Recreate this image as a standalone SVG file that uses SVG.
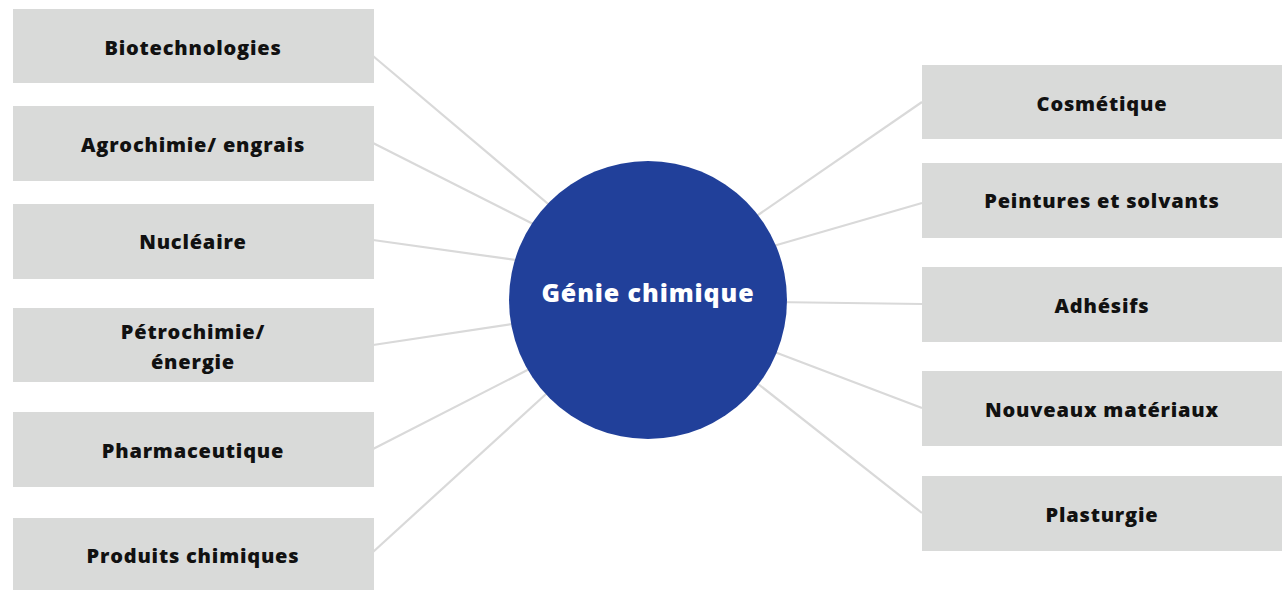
<svg xmlns="http://www.w3.org/2000/svg" width="1282" height="590" viewBox="0 0 1282 590">
  <style>
    .box { fill: #d9dad9; }
    .lbl { font-family: "Open Sans", "Noto Sans", "Liberation Sans", sans-serif; font-weight: 800; font-size: 20px; letter-spacing: 0.8px; fill: #111111; text-anchor: middle; }
    .hub { fill: #21409a; }
    .hubtxt { font-family: "Open Sans", "Noto Sans", "Liberation Sans", sans-serif; font-weight: 800; font-size: 25px; letter-spacing: 0.9px; fill: #ffffff; text-anchor: middle; }
    .link { stroke: #d9d9d9; stroke-width: 2.2; fill: none; }
  </style>

  <!-- connectors, drawn under the hub circle -->
  <g id="connectors">
    <line class="link" x1="373" y1="56" x2="560" y2="214"/>
    <line class="link" x1="373" y1="143" x2="545" y2="230"/>
    <line class="link" x1="373" y1="240" x2="530" y2="262"/>
    <line class="link" x1="373" y1="345" x2="526" y2="322"/>
    <line class="link" x1="373" y1="449" x2="541" y2="363"/>
    <line class="link" x1="373" y1="552" x2="557" y2="384"/>
    <line class="link" x1="922" y1="102" x2="745" y2="224"/>
    <line class="link" x1="922" y1="203" x2="763" y2="249"/>
    <line class="link" x1="922" y1="304" x2="772" y2="302"/>
    <line class="link" x1="922" y1="408" x2="764" y2="348"/>
    <line class="link" x1="922" y1="513" x2="748" y2="376"/>
  </g>

  <g id="hub">
    <circle class="hub" cx="648" cy="300" r="139"/>
    <text class="hubtxt" x="648" y="302">Génie chimique</text>
  </g>

  <g id="biotechnologies">
    <rect class="box" x="13" y="9" width="361" height="74"/>
    <text class="lbl" x="193" y="55">Biotechnologies</text>
  </g>
  <g id="agrochimie">
    <rect class="box" x="13" y="106" width="361" height="75"/>
    <text class="lbl" x="193" y="152">Agrochimie/ engrais</text>
  </g>
  <g id="nucleaire">
    <rect class="box" x="13" y="204" width="361" height="75"/>
    <text class="lbl" x="193" y="249">Nucléaire</text>
  </g>
  <g id="petrochimie">
    <rect class="box" x="13" y="308" width="361" height="74"/>
    <text class="lbl" x="193" y="339">Pétrochimie/</text>
    <text class="lbl" x="193" y="369">énergie</text>
  </g>
  <g id="pharmaceutique">
    <rect class="box" x="13" y="412" width="361" height="75"/>
    <text class="lbl" x="193" y="458">Pharmaceutique</text>
  </g>
  <g id="produits-chimiques">
    <rect class="box" x="13" y="518" width="361" height="72"/>
    <text class="lbl" x="193" y="563">Produits chimiques</text>
  </g>

  <g id="cosmetique">
    <rect class="box" x="922" y="65" width="360" height="74"/>
    <text class="lbl" x="1102" y="111">Cosmétique</text>
  </g>
  <g id="peintures">
    <rect class="box" x="922" y="163" width="360" height="75"/>
    <text class="lbl" x="1102" y="208">Peintures et solvants</text>
  </g>
  <g id="adhesifs">
    <rect class="box" x="922" y="267" width="360" height="75"/>
    <text class="lbl" x="1102" y="313">Adhésifs</text>
  </g>
  <g id="nouveaux-materiaux">
    <rect class="box" x="922" y="371" width="360" height="75"/>
    <text class="lbl" x="1102" y="417">Nouveaux matériaux</text>
  </g>
  <g id="plasturgie">
    <rect class="box" x="922" y="476" width="360" height="75"/>
    <text class="lbl" x="1102" y="522">Plasturgie</text>
  </g>
</svg>
